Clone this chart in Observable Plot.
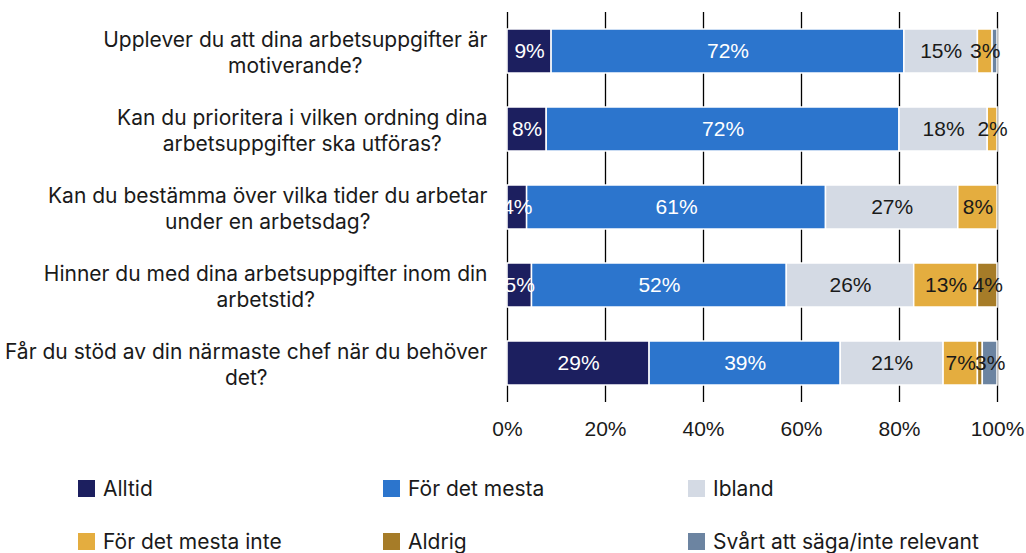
<!DOCTYPE html>
<html>
<head>
<meta charset="utf-8">
<script src="https://cdn.jsdelivr.net/npm/d3@7"></script>
<script src="https://cdn.jsdelivr.net/npm/@observablehq/plot@0.6"></script>
<style>
  body { margin: 0; background: #fff; font-family: Inter, "Open Sans", sans-serif; }
  #chart { width: 1026px; }
  .legend { display: flex; flex-wrap: wrap; padding-left: 78px; margin-top: 7px; width: 948px; }
  .legend .item { width: 305px; height: 53px; display: flex; align-items: center; font-size: 21px; color: #1a1a1a; }
  .legend .sw { width: 17px; height: 17px; margin-right: 8px; flex: none; }
</style>
</head>
<body>
<div id="chart"></div>
<script>
const questions = [
  "Upplever du att dina arbetsuppgifter är motiverande?",
  "Kan du prioritera i vilken ordning dina arbetsuppgifter ska utföras?",
  "Kan du bestämma över vilka tider du arbetar under en arbetsdag?",
  "Hinner du med dina arbetsuppgifter inom din arbetstid?",
  "Får du stöd av din närmaste chef när du behöver det?"
];
const questionLabels = [
  "Upplever du att dina arbetsuppgifter är\nmotiverande?",
  "Kan du prioritera i vilken ordning dina\narbetsuppgifter ska utföras?",
  "Kan du bestämma över vilka tider du arbetar\nunder en arbetsdag?",
  "Hinner du med dina arbetsuppgifter inom din\narbetstid?",
  "Får du stöd av din närmaste chef när du behöver\ndet?"
];
const seriesNames = ["Alltid", "För det mesta", "Ibland", "För det mesta inte", "Aldrig", "Svårt att säga/inte relevant"];
const seriesColors = ["#1c1f5f", "#2c75cd", "#d4dae4", "#e4ad3f", "#a67c28", "#6c84a1"];
const alltid = [9, 8, 4, 5, 29];
const forDetMesta = [72, 72, 61, 52, 39];
const ibland = [15, 18, 27, 26, 21];
const forDetMestaInte = [3, 2, 8, 13, 7];
const aldrig = [0, 0, 0, 4, 1];
const svart = [1, 0, 0, 0, 3];
const xTicks = [0, 20, 40, 60, 80, 100];

const seriesValues = [alltid, forDetMesta, ibland, forDetMestaInte, aldrig, svart];
const data = [];
questions.forEach((q, i) => {
  seriesNames.forEach((s, j) => data.push({q, series: s, value: seriesValues[j][i]}));
});
const labelOf = new Map(questions.map((q, i) => [q, questionLabels[i]]));
const darkSeries = new Set(["Alltid", "För det mesta"]);
const numFont = "'Liberation Sans', Arial, sans-serif";

const plot = Plot.plot({
  width: 1026,
  height: 455,
  marginLeft: 507,
  marginRight: 29,
  marginTop: 12,
  marginBottom: 53,
  style: { fontFamily: numFont, fontSize: "21px", color: "#1a1a1a" },
  x: { domain: [0, 100], ticks: xTicks, tickFormat: d => d + "%", tickSize: 0, tickPadding: 19, label: null },
  y: { domain: questions, paddingInner: 0.436, paddingOuter: 0.218, axis: null },
  color: { domain: seriesNames, range: seriesColors },
  marks: [
    Plot.ruleX(xTicks, { stroke: "#000", strokeWidth: 1.3 }),
    Plot.barX(data, Plot.stackX({ x: "value", y: "q", fill: "series", order: seriesNames, stroke: "white", strokeWidth: 1.5 })),
    Plot.text(data, Plot.stackX({ x: "value", y: "q", z: "series", order: seriesNames,
      text: d => darkSeries.has(d.series) && d.value >= 2 ? d.value + "%" : "", fill: "white", fontSize: 21 })),
    Plot.text(data, Plot.stackX({ x: "value", y: "q", z: "series", order: seriesNames,
      text: d => !darkSeries.has(d.series) && d.value >= 2 ? d.value + "%" : "", fill: "#1a1a1a", fontSize: 21 })),
    Plot.text(questions, { y: d => d, text: d => labelOf.get(d), frameAnchor: "left", dx: -20, textAnchor: "end",
      lineHeight: 1.25, fontSize: 21, fontFamily: "Inter, sans-serif", fill: "#1a1a1a" })
  ]
});
document.getElementById("chart").appendChild(plot);

// center the lines of each question label around the middle of its widest line
plot.querySelectorAll("text").forEach(function (el) {
  const tspans = Array.from(el.querySelectorAll("tspan"));
  if (tspans.length < 2) return;
  const w = d3.max(tspans, t => t.getComputedTextLength());
  el.setAttribute("text-anchor", "middle");
  tspans.forEach(t => { t.setAttribute("x", -w / 2); t.setAttribute("text-anchor", "middle"); });
});

// legend
const legend = document.createElement("div");
legend.className = "legend";
seriesNames.forEach((s, i) => {
  const item = document.createElement("div");
  item.className = "item";
  const sw = document.createElement("span");
  sw.className = "sw";
  sw.style.background = seriesColors[i];
  item.appendChild(sw);
  item.appendChild(document.createTextNode(s));
  legend.appendChild(item);
});
document.getElementById("chart").appendChild(legend);
</script>
</body>
</html>
